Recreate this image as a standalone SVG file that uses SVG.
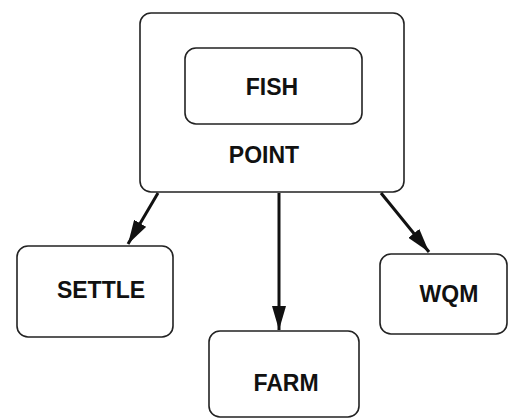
<svg xmlns="http://www.w3.org/2000/svg" width="509" height="420" viewBox="0 0 509 420">
  <style>
    .box { fill: none; stroke: #222; stroke-width: 1.6; }
    .lbl { font-family: "Liberation Sans", Arial, sans-serif; font-weight: bold; font-size: 23px; fill: #111; text-anchor: middle; }
    .edge { stroke: #111; stroke-width: 3; fill: none; }
  </style>
  <defs>
    <marker id="arrow" viewBox="0 0 24 14" refX="24" refY="7" markerWidth="24" markerHeight="14" markerUnits="userSpaceOnUse" orient="auto">
      <path d="M0,0 L24,7 L0,14 Z" fill="#111"/>
    </marker>
  </defs>
  <rect width="509" height="420" fill="#fff"/>

  <g id="point">
    <rect class="box" x="140" y="13" width="264" height="179" rx="11"/>
    <text class="lbl" x="264" y="163">POINT</text>
  </g>
  <g id="fish">
    <rect class="box" x="185" y="48" width="177" height="76" rx="11"/>
    <text class="lbl" x="272" y="95">FISH</text>
  </g>
  <g id="settle">
    <rect class="box" x="17" y="246" width="156" height="91" rx="11"/>
    <text class="lbl" x="101" y="298">SETTLE</text>
  </g>
  <g id="farm">
    <rect class="box" x="209" y="331" width="150" height="86" rx="11"/>
    <text class="lbl" x="286" y="391">FARM</text>
  </g>
  <g id="wqm">
    <rect class="box" x="380" y="254" width="127" height="80" rx="11"/>
    <text class="lbl" x="449" y="302">WQM</text>
  </g>

  <g id="connectors">
    <line class="edge" x1="158" y1="193" x2="128" y2="244" marker-end="url(#arrow)"/>
    <line class="edge" x1="279" y1="193" x2="279" y2="330" marker-end="url(#arrow)"/>
    <line class="edge" x1="381" y1="193" x2="429" y2="252" marker-end="url(#arrow)"/>
  </g>
</svg>
